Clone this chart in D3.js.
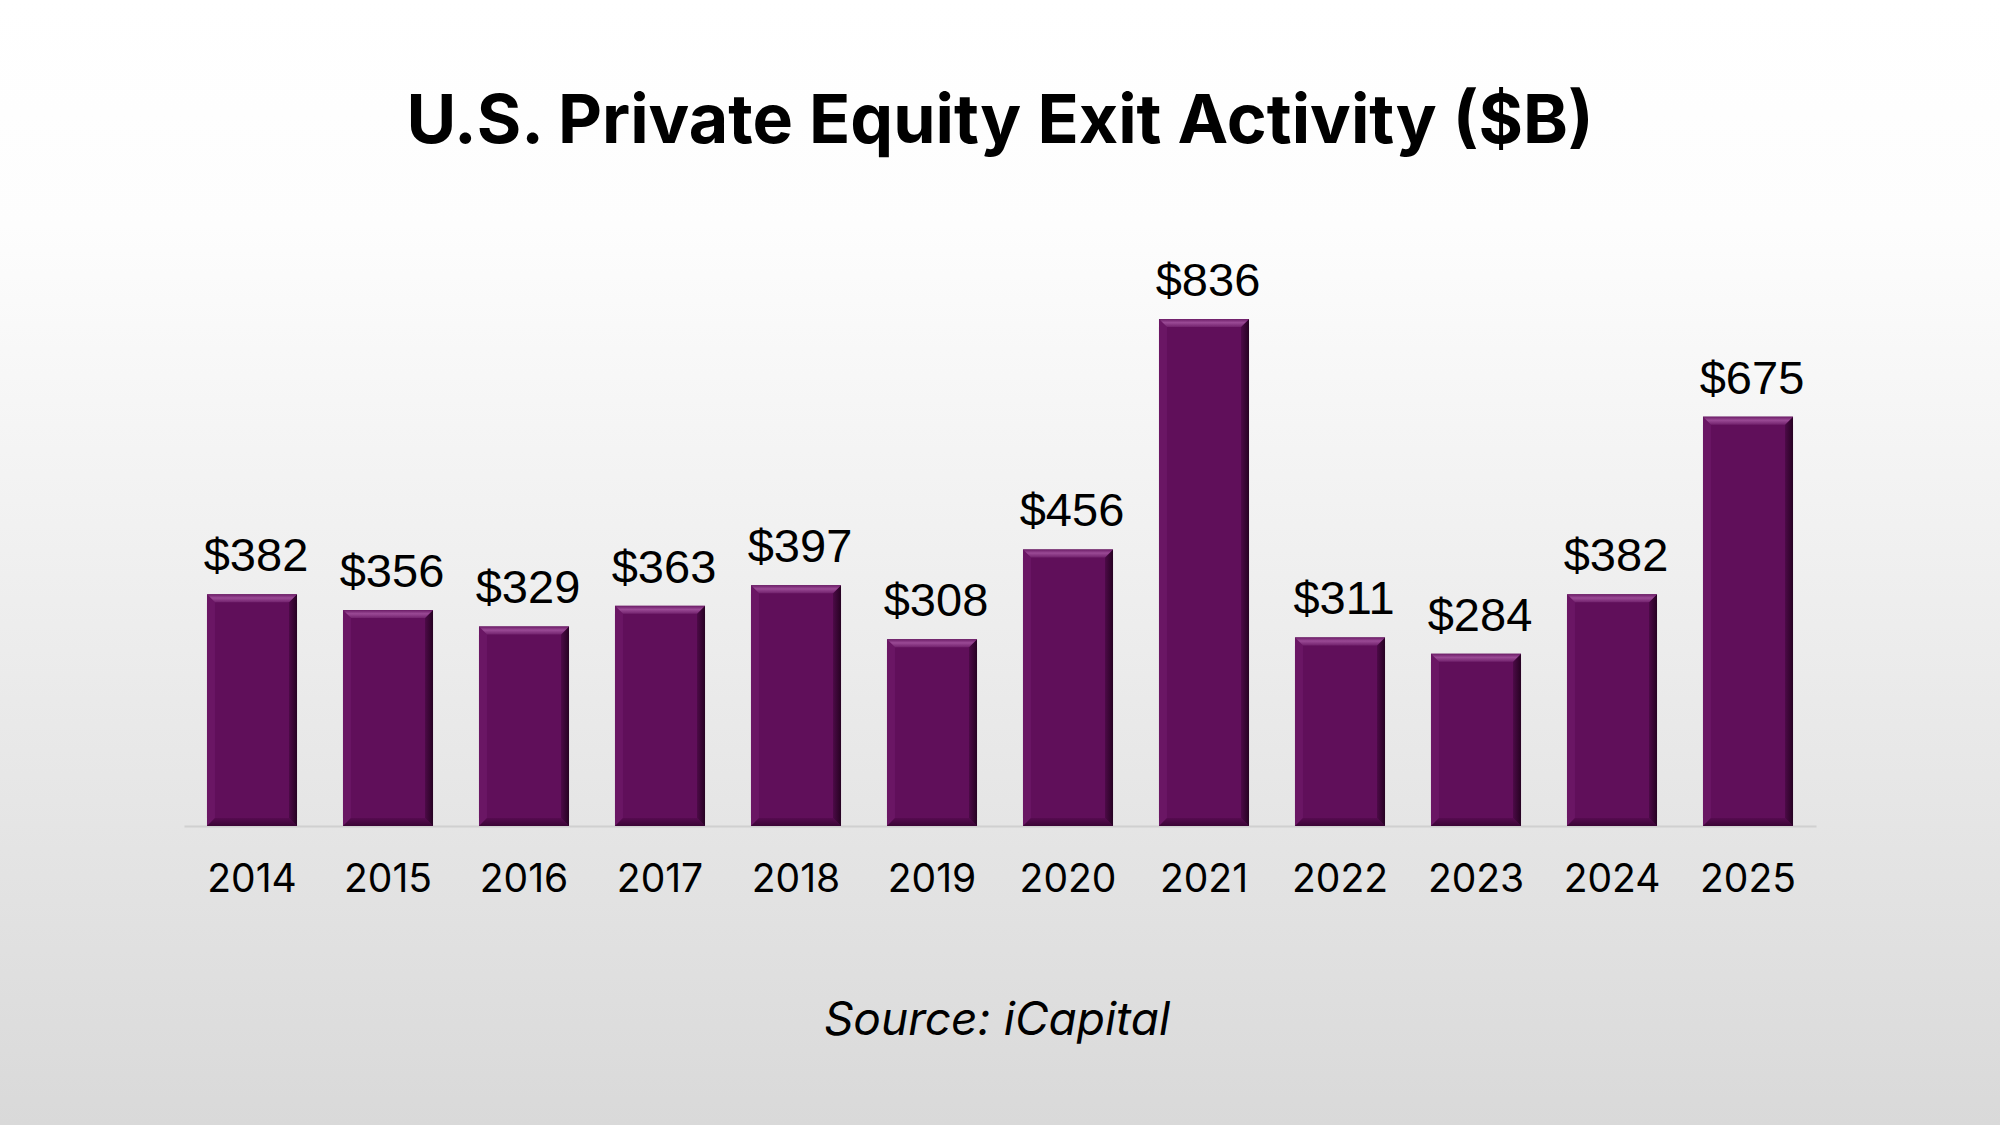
<!DOCTYPE html>
<html>
<head>
<meta charset="utf-8">
<script src="https://cdn.jsdelivr.net/npm/d3@7"></script>
<style>
  html, body { margin: 0; padding: 0; background: #fff; }
  svg { display: block; }
</style>
</head>
<body>
<div id="chart"></div>
<script>
// data
const years = ["2014", "2015", "2016", "2017", "2018", "2019", "2020", "2021", "2022", "2023", "2024", "2025"];
const exits = [382, 356, 329, 363, 397, 308, 456, 836, 311, 284, 382, 675];
const titleText = "U.S. Private Equity Exit Activity ($B)";
const sourceText = "Source: iCapital";

const svgWidth = 2000;
const svgHeight = 1125;
const bevel = 8;

const svg = d3.select("#chart")
    .append("svg")
    .attr("width", svgWidth)
    .attr("height", svgHeight);

const defs = svg.append("defs");

// page background, white fading to grey
const bg = defs.append("linearGradient")
    .attr("id", "bg")
    .attr("x1", 0).attr("y1", 0).attr("x2", 0).attr("y2", 1);
bg.append("stop").attr("offset", "0%").attr("stop-color", "#ffffff");
bg.append("stop").attr("offset", "20%").attr("stop-color", "#fdfdfd");
bg.append("stop").attr("offset", "100%").attr("stop-color", "#d9d9d9");

const topBevel = defs.append("linearGradient")
    .attr("id", "topBevel")
    .attr("x1", 0).attr("y1", 0).attr("x2", 0).attr("y2", 1);
topBevel.append("stop").attr("offset", "0%").attr("stop-color", "#6c1c67");
topBevel.append("stop").attr("offset", "45%").attr("stop-color", "#9a4a95");
topBevel.append("stop").attr("offset", "100%").attr("stop-color", "#72226d");

const rightBevel = defs.append("linearGradient")
    .attr("id", "rightBevel")
    .attr("x1", 0).attr("y1", 0).attr("x2", 1).attr("y2", 0);
rightBevel.append("stop").attr("offset", "0%").attr("stop-color", "#4c0a47");
rightBevel.append("stop").attr("offset", "100%").attr("stop-color", "#260222");

const bottomBevel = defs.append("linearGradient")
    .attr("id", "bottomBevel")
    .attr("x1", 0).attr("y1", 0).attr("x2", 0).attr("y2", 1);
bottomBevel.append("stop").attr("offset", "0%").attr("stop-color", "#560b50");
bottomBevel.append("stop").attr("offset", "100%").attr("stop-color", "#3a0535");

svg.append("rect")
    .attr("width", svgWidth)
    .attr("height", svgHeight)
    .attr("fill", "url(#bg)");

// title
svg.append("text")
    .attr("x", 1000)
    .attr("y", 143)
    .attr("text-anchor", "middle")
    .attr("font-family", "Inter, 'Open Sans', sans-serif")
    .attr("font-weight", 700)
    .attr("font-size", 68)
    .attr("fill", "#000")
    .text(titleText);

// scales
const x = d3.scaleBand()
    .domain(years)
    .range([184, 1816])
    .paddingInner(0.338)
    .paddingOuter(0.169);

const y = d3.scaleLinear()
    .domain([0, 836])
    .range([826, 319]);

// x axis
const xAxis = svg.append("g")
    .attr("transform", `translate(0, ${y(0)})`)
    .call(d3.axisBottom(x).tickSize(0).tickPadding(38));

xAxis.select(".domain")
    .attr("stroke", "#d0d0d0")
    .attr("stroke-width", 2);

xAxis.selectAll(".tick text")
    .attr("font-family", "Inter, 'Open Sans', sans-serif")
    .attr("font-size", 39)
    .attr("fill", "#000")
    .attr("dy", "0.71em");

// bars with bevelled edges
const bars = svg.append("g")
    .selectAll("g")
    .data(exits)
    .join("g");

const bx = (d, i) => x(years[i]);
const bw = x.bandwidth();

bars.append("rect")
    .attr("x", bx)
    .attr("y", d => y(d))
    .attr("width", bw)
    .attr("height", d => y(0) - y(d))
    .attr("fill", "#600f5a");

bars.append("polygon")
    .attr("points", (d, i) => {
        const x0 = bx(d, i), y0 = y(d), y1 = y(0);
        return [[x0, y0], [x0 + bevel, y0 + bevel], [x0 + bevel, y1 - bevel], [x0, y1]].join(" ");
    })
    .attr("fill", "#6a1664");

bars.append("polygon")
    .attr("points", (d, i) => {
        const x0 = bx(d, i), y0 = y(d), y1 = y(0);
        return [[x0, y1], [x0 + bevel, y1 - bevel], [x0 + bw - bevel, y1 - bevel], [x0 + bw, y1]].join(" ");
    })
    .attr("fill", "url(#bottomBevel)");

bars.append("polygon")
    .attr("points", (d, i) => {
        const x0 = bx(d, i), y0 = y(d), y1 = y(0);
        return [[x0 + bw, y0], [x0 + bw, y1], [x0 + bw - bevel, y1 - bevel], [x0 + bw - bevel, y0 + bevel]].join(" ");
    })
    .attr("fill", "url(#rightBevel)");

bars.append("polygon")
    .attr("points", (d, i) => {
        const x0 = bx(d, i), y0 = y(d);
        return [[x0, y0], [x0 + bw, y0], [x0 + bw - bevel, y0 + bevel], [x0 + bevel, y0 + bevel]].join(" ");
    })
    .attr("fill", "url(#topBevel)");

// value labels
svg.append("g")
    .selectAll("text")
    .data(exits)
    .join("text")
    .attr("x", (d, i) => x(years[i]) + bw / 2 + 4)
    .attr("y", d => y(d) - 23)
    .attr("text-anchor", "middle")
    .attr("font-family", "'Liberation Sans', Arial, sans-serif")
    .attr("font-size", 47)
    .attr("fill", "#000")
    .text(d => "$" + d);

// source note
svg.append("text")
    .attr("x", 997)
    .attr("y", 1035)
    .attr("text-anchor", "middle")
    .attr("font-family", "Inter, 'Open Sans', sans-serif")
    .attr("font-style", "italic")
    .attr("font-size", 46)
    .attr("fill", "#000")
    .text(sourceText);
</script>
</body>
</html>
